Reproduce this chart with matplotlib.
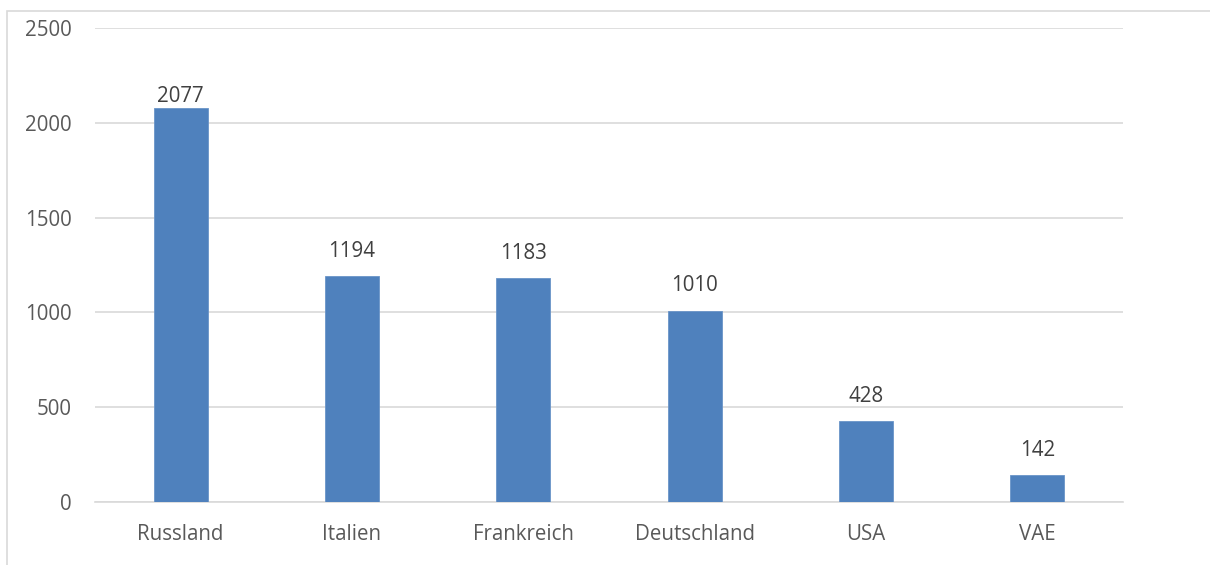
import numpy as np
import matplotlib.pyplot as plt
from matplotlib.patches import Rectangle

countries = ["Russland", "Italien", "Frankreich", "Deutschland", "USA", "VAE"]
values = [2077, 1194, 1183, 1010, 428, 142]
yticks = [0, 500, 1000, 1500, 2000, 2500]

plt.rcParams['font.family'] = ['Open Sans', 'DejaVu Sans']

fig = plt.figure(figsize=(12.1, 5.65), dpi=100)
ax = fig.add_axes([95 / 1210, 63 / 565, 1028 / 1210, 474 / 565])

# outer chart frame (only left and top edges visible)
fig.add_artist(Rectangle((7 / 1210, -0.1), 1.2, 0.1 + (565 - 11) / 565,
                         transform=fig.transFigure, fill=False,
                         edgecolor="#D9D9D9", linewidth=1.2))

x = np.arange(len(countries))
ax.bar(x, values, width=0.315, color="#4F81BD", edgecolor="#6A94C8",
       linewidth=0.6, zorder=3)

# labels sit ~19px above the bars, the tallest one was pulled down in the original
for i, (xi, v) in enumerate(zip(x, values)):
    off = 4.3 if i == 0 else 13.7
    ax.annotate(str(v), (xi, v), xytext=(0, off), textcoords="offset points",
                ha="center", va="baseline", fontsize=14.8, color="#404040")

ax.set_xlim(-0.5, len(countries) - 0.5)
ax.set_ylim(0, 2500)
ax.set_yticks(yticks)
ax.set_xticks(x)
ax.set_xticklabels(countries)
ax.yaxis.grid(True, color="#D9D9D9", linewidth=1.2, zorder=0)
ax.set_axisbelow(True)
for s in ["top", "right", "left"]:
    ax.spines[s].set_visible(False)
ax.spines["bottom"].set_color("#D9D9D9")
ax.spines["bottom"].set_linewidth(1.2)
ax.tick_params(axis="both", length=0, labelsize=14.8, colors="#595959")
ax.tick_params(axis="y", pad=16.5)
ax.tick_params(axis="x", pad=16)

fig.savefig("out.png", dpi=100)
